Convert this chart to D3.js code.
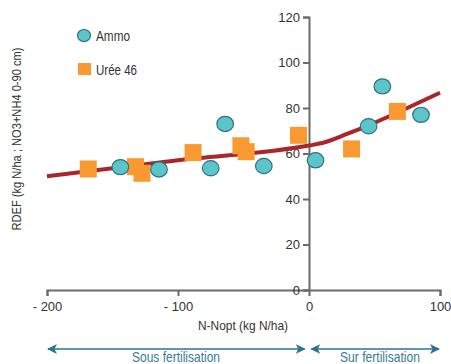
<!DOCTYPE html>
<html>
<head>
<meta charset="utf-8">
<script src="https://cdn.jsdelivr.net/npm/d3@7"></script>
<style>
  html, body { margin: 0; padding: 0; background: #fff; }
  svg { display: block; font-family: "Liberation Sans", Arial, sans-serif; }
</style>
</head>
<body>
<svg id="chart" width="451" height="364"></svg>
<script>
// N-Nopt (kg N/ha) vs RDEF (kg N/ha) for each fertiliser
const ammoX = [-144, -114.5, -75, -64, -34.5, 5, 45.5, 56, 85.5];
const ammoY = [54, 53, 53.5, 73, 54.5, 57, 72, 89.5, 77];
const ureeX = [-168.5, -132.5, -127.5, -88.5, -52, -48, -8, 32.5, 67.5];
const ureeY = [53.2, 54.2, 51.3, 60.4, 63.4, 60.8, 68, 62, 78.5];

// fitted response curve
const fitX = [-200, -100, 0, 10, 30, 50, 75, 100];
const fitY = [50, 57, 63.5, 64.6, 68.8, 73.5, 80, 86.7];

const xTicks = [-200, -100, 0, 100];
const xTickLabels = ["- 200", "- 100", "0", "100"];
const yTicks = [0, 20, 40, 60, 80, 100, 120];

const seriesNames = ["Ammo", "Urée 46"];
const xTitle = "N-Nopt (kg N/ha)";
const yTitle = "RDEF (kg N/ha ; NO3+NH4 0-90 cm)";
const zoneLabels = ["Sous fertilisation", "Sur fertilisation"];

const svg = d3.select("#chart");
const x = d3.scaleLinear().domain([-200, 100]).range([47, 440]);
const y = d3.scaleLinear().domain([0, 120]).range([290, 17]);

const axisColor = "#6b6b6b";
const textColor = "#333";

// condensed text helper: fixes the drawn width of a label
function narrow(sel, w) {
  return sel.attr("textLength", w).attr("lengthAdjust", "spacingAndGlyphs");
}

// x axis
const gx = svg.append("g").attr("transform", `translate(0,${y(0)})`)
  .call(d3.axisBottom(x).tickValues(xTicks)
    .tickFormat((d, i) => xTickLabels[i]).tickSize(6).tickPadding(6));
gx.select(".domain").attr("stroke", axisColor).attr("stroke-width", 2);
gx.selectAll(".tick line").attr("stroke", axisColor).attr("stroke-width", 2);
gx.selectAll(".tick text").attr("fill", textColor).attr("font-size", 13)
  .attr("font-family", "Liberation Sans, sans-serif");

// y axis at x = 0
const gy = svg.append("g").attr("transform", `translate(${x(0)},0)`)
  .call(d3.axisLeft(y).tickValues(yTicks).tickSize(6).tickPadding(3));
gy.select(".domain").attr("stroke", axisColor).attr("stroke-width", 2);
gy.selectAll(".tick line").attr("stroke", axisColor).attr("stroke-width", 2);
gy.selectAll(".tick text").attr("fill", textColor).attr("font-size", 13)
  .attr("font-family", "Liberation Sans, sans-serif");

// axis titles
narrow(svg.append("text").attr("x", 243).attr("y", 330).attr("text-anchor", "middle")
  .attr("font-size", 13).attr("fill", textColor).text(xTitle), 90);
narrow(svg.append("text").attr("transform", "translate(21,139) rotate(-90)")
  .attr("text-anchor", "middle").attr("font-size", 13).attr("fill", textColor).text(yTitle), 183);

// fitted curve
const line = d3.line().x(d => x(d[0])).y(d => y(d[1])).curve(d3.curveMonotoneX);
svg.append("path").datum(d3.zip(fitX, fitY)).attr("d", line)
  .attr("fill", "none").attr("stroke", "#a9272b").attr("stroke-width", 4);

// Urée 46 squares
const sq = 17;
svg.append("g").selectAll("rect").data(d3.zip(ureeX, ureeY)).join("rect")
  .attr("x", d => x(d[0]) - sq / 2).attr("y", d => y(d[1]) - sq / 2)
  .attr("width", sq).attr("height", sq).attr("fill", "#f89a31");

// Ammo circles
svg.append("g").selectAll("ellipse").data(d3.zip(ammoX, ammoY)).join("ellipse")
  .attr("cx", d => x(d[0])).attr("cy", d => y(d[1])).attr("rx", 8.3).attr("ry", 7.6)
  .attr("fill", "#5cc5c7").attr("stroke", "#2d6f8a").attr("stroke-width", 1.2);

// legend
svg.append("ellipse").attr("cx", 84).attr("cy", 35.5).attr("rx", 6.5).attr("ry", 6)
  .attr("fill", "#5cc5c7").attr("stroke", "#2d6f8a").attr("stroke-width", 1.2);
narrow(svg.append("text").attr("x", 96).attr("y", 41).attr("font-size", 14)
  .attr("fill", textColor).text(seriesNames[0]), 34);
svg.append("rect").attr("x", 78).attr("y", 63).attr("width", 13).attr("height", 12)
  .attr("fill", "#f89a31");
narrow(svg.append("text").attr("x", 96).attr("y", 74.5).attr("font-size", 14)
  .attr("fill", textColor).text(seriesNames[1]), 41);

// fertilisation zones with double arrows
const arrowColor = "#2f7290";
const defs = svg.append("defs");
defs.append("marker").attr("id", "head").attr("viewBox", "0 0 10 10")
  .attr("refX", 9).attr("refY", 5).attr("markerWidth", 10).attr("markerHeight", 10)
  .attr("markerUnits", "userSpaceOnUse").attr("orient", "auto-start-reverse")
  .append("path").attr("d", "M0,0 L10,5 L0,10 L2.5,5 Z").attr("fill", arrowColor);

const zones = [[-200, -2.5], [1, 100]];
const zoneCenters = [176, 380];
const zoneWidths = [88, 80];
const ay = 349;
zones.forEach((z, i) => {
  svg.append("line").attr("x1", x(z[0]) + 1).attr("x2", x(z[1]) - 1)
    .attr("y1", ay).attr("y2", ay).attr("stroke", arrowColor).attr("stroke-width", 1.5)
    .attr("marker-start", "url(#head)").attr("marker-end", "url(#head)");
  narrow(svg.append("text").attr("x", zoneCenters[i]).attr("y", 362)
    .attr("text-anchor", "middle").attr("font-size", 14.5).attr("fill", "#3b7b96")
    .text(zoneLabels[i]), zoneWidths[i]);
});
</script>
</body>
</html>
